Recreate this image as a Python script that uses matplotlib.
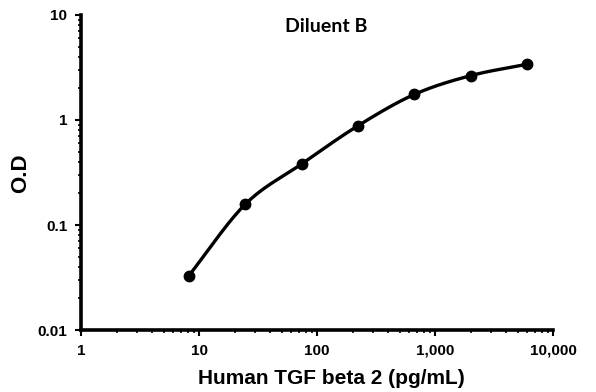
import numpy as np
import matplotlib
matplotlib.use("Agg")
import matplotlib.pyplot as plt
from matplotlib.ticker import FixedLocator, LogLocator, NullFormatter

plt.rcParams['font.family'] = ['Liberation Sans', 'DejaVu Sans']

conc = [8.2, 24.7, 74, 222, 667, 2000, 6000]
od = [0.033, 0.158, 0.381, 0.88, 1.75, 2.64, 3.39]
xticks = [1, 10, 100, 1000, 10000]
xticklabels = ["1", "10", "100", "1,000", "10,000"]
yticks = [0.01, 0.1, 1, 10]
yticklabels = ["0.01", "0.1", "1", "10"]

def catmull(xs, ys, n=30):
    lx = np.log10(xs); ly = np.log10(ys)
    P = np.column_stack([lx, ly])
    P = np.vstack([2*P[0]-P[1], P, 2*P[-1]-P[-2]])
    out = []
    for i in range(1, len(P)-2):
        p0, p1, p2, p3 = P[i-1], P[i], P[i+1], P[i+2]
        t = np.linspace(0, 1, n)[:, None]
        seg = 0.5*((2*p1) + (-p0+p2)*t + (2*p0-5*p1+4*p2-p3)*t**2 + (-p0+3*p1-3*p2+p3)*t**3)
        out.append(seg)
    out = np.vstack(out)
    return 10**out[:, 0], 10**out[:, 1]

fig = plt.figure(figsize=(5.96, 3.92), dpi=100)
ax = fig.add_axes([0.136, 0.158, 0.792, 0.804])
cx, cy = catmull(conc, od)
ax.plot(cx, cy, color='black', lw=2.4, solid_capstyle='round')
ax.plot(conc, od, 'o', color='black', ms=7.5)
ax.set_xscale('log'); ax.set_yscale('log')
ax.set_xlim(1, 10000); ax.set_ylim(0.01, 10)
ax.xaxis.set_major_locator(FixedLocator(xticks))
ax.set_xticklabels(xticklabels)
ax.yaxis.set_major_locator(FixedLocator(yticks))
ax.set_yticklabels(yticklabels)
ax.xaxis.set_minor_locator(LogLocator(base=10, subs=np.arange(2, 10)))
ax.yaxis.set_minor_locator(LogLocator(base=10, subs=np.arange(2, 10)))
ax.xaxis.set_minor_formatter(NullFormatter()); ax.yaxis.set_minor_formatter(NullFormatter())
for s in ['top', 'right']:
    ax.spines[s].set_visible(False)
for s in ['left', 'bottom']:
    ax.spines[s].set_linewidth(2.6)
ax.tick_params(which='major', direction='out', length=4, width=1.5, labelsize=11, pad=6)
ax.tick_params(which='minor', direction='out', length=2.5, width=1.2)
for lab in ax.get_xticklabels() + ax.get_yticklabels():
    lab.set_fontweight('bold')
fig.text(326/596, 1-27/392, "Diluent B", ha='center', va='center', fontsize=14, fontweight='bold',
         family=['Lato', 'DejaVu Sans'])
fig.text(331/596, 1-378/392, "Human TGF beta 2 (pg/mL)", ha='center', va='center', fontsize=15, fontweight='bold')
fig.text(21/596, 1-173/392, "O.D", ha='center', va='center', rotation=90, fontsize=16, fontweight='bold')
fig.savefig("out.png", dpi=100)
